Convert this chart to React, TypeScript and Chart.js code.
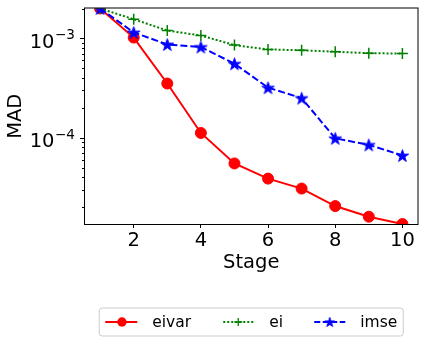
import React, { useEffect, useRef } from "react";
import { Chart, registerables } from "chart.js";

Chart.register(...registerables);

// ---- data ----
const stages = [1, 2, 3, 4, 5, 6, 7, 8, 9, 10];
const eivar = [2.0e-3, 1.02e-3, 3.52e-4, 1.12e-4, 5.53e-5, 3.89e-5, 3.09e-5, 2.06e-5, 1.61e-5, 1.36e-5];
const ei = [2.0e-3, 1.56e-3, 1.2e-3, 1.07e-3, 8.57e-4, 7.76e-4, 7.6e-4, 7.35e-4, 7.1e-4, 7.05e-4];
const imse = [2.0e-3, 1.15e-3, 8.7e-4, 8.2e-4, 5.57e-4, 3.2e-4, 2.51e-4, 9.9e-5, 8.5e-5, 6.65e-5];
const seriesNames = ["eivar", "ei", "imse"];
const xTicks = [2, 4, 6, 8, 10];
const yMajorTicks = [1e-4, 1e-3];
const xMin = 0.55;
const xMax = 10.45;
const yMin = 1.36e-5;
const yMax = 2.0e-3;
const xTitle = "Stage";
const yTitle = "MAD";

const FONT = "'DejaVu Sans', sans-serif";
const RED = "#ff0000";
const GREEN = "#008000";
const BLUE = "#0000ff";

function starPath(ctx: CanvasRenderingContext2D, cx: number, cy: number, R: number) {
  const r = R * 0.381966;
  ctx.beginPath();
  for (let i = 0; i < 10; i++) {
    const ang = -Math.PI / 2 + (i * Math.PI) / 5;
    const rad = i % 2 === 0 ? R : r;
    const x = cx + rad * Math.cos(ang);
    const y = cy + rad * Math.sin(ang);
    if (i === 0) ctx.moveTo(x, y);
    else ctx.lineTo(x, y);
  }
  ctx.closePath();
}

function makeStar(R: number, color: string) {
  const c = document.createElement("canvas");
  const s = Math.ceil(R * 2 + 4);
  c.width = s;
  c.height = s;
  const g = c.getContext("2d")!;
  starPath(g, s / 2, s / 2 + R * 0.1, R);
  g.fillStyle = color;
  g.fill();
  g.strokeStyle = color;
  g.lineWidth = 1;
  g.stroke();
  return c;
}

const axesPlugin = {
  id: "mplAxes",
  afterDatasetsDraw(chart: any) {
    const { ctx, chartArea: ca } = chart;
    const ys = chart.scales.y;
    ctx.save();
    ctx.strokeStyle = "#000";
    ctx.lineWidth = 1;
    ctx.strokeRect(ca.left - 0.5, ca.top - 0.5, ca.right - ca.left + 1, ca.bottom - ca.top + 1);
    // y tick marks (major + minor)
    const lo = Math.floor(Math.log10(yMin));
    const hi = Math.ceil(Math.log10(yMax));
    for (let e = lo; e <= hi; e++) {
      for (let m = 1; m <= 9; m++) {
        const v = m * Math.pow(10, e);
        if (v < yMin * 0.999 || v > yMax * 1.001) continue;
        const py = Math.round(ys.getPixelForValue(v)) + 0.5;
        const len = m === 1 ? 4.5 : 2.5;
        ctx.beginPath();
        ctx.moveTo(ca.left - 0.5 - len, py);
        ctx.lineTo(ca.left - 0.5, py);
        ctx.stroke();
      }
    }
    // y tick labels 10^e
    ctx.fillStyle = "#000";
    ctx.textBaseline = "alphabetic";
    ctx.textAlign = "right";
    for (const v of yMajorTicks) {
      const e = Math.round(Math.log10(v));
      const py = ys.getPixelForValue(v);
      const expStr = (e < 0 ? "\u2212" : "") + Math.abs(e);
      const right = ca.left - 10;
      ctx.font = `13.6px ${FONT}`;
      const ew = ctx.measureText(expStr).width;
      ctx.fillText(expStr, right, py + 1);
      ctx.font = `19.5px ${FONT}`;
      ctx.fillText("10", right - ew - 0.5, py + 9.4);
    }
    ctx.restore();
  },
  afterDraw(chart: any) {
    const { ctx, chartArea: ca } = chart;
    const stars = chart.$legendStar as HTMLCanvasElement;
    ctx.save();
    const cx = (ca.left + ca.right) / 2;
    const bx = cx - 152;
    const by = 308;
    const bw = 304;
    const bh = 28;
    const r = 3;
    ctx.beginPath();
    ctx.moveTo(bx + r, by);
    ctx.arcTo(bx + bw, by, bx + bw, by + bh, r);
    ctx.arcTo(bx + bw, by + bh, bx, by + bh, r);
    ctx.arcTo(bx, by + bh, bx, by, r);
    ctx.arcTo(bx, by, bx + bw, by, r);
    ctx.closePath();
    ctx.fillStyle = "rgba(255,255,255,0.8)";
    ctx.fill();
    ctx.strokeStyle = "#cccccc";
    ctx.lineWidth = 1;
    ctx.stroke();

    const rowY = by + 14;
    const items = [
      { x0: 6, x1: 38, mx: 22.7, tx: 53, color: RED, dash: [] as number[], marker: "circle" },
      { x0: 124, x1: 154, mx: 139, tx: 170, color: GREEN, dash: [2, 2], marker: "plus" },
      { x0: 215, x1: 246, mx: 230.5, tx: 261, color: BLUE, dash: [6, 2.5], marker: "star" },
    ];
    items.forEach((it, i) => {
      ctx.setLineDash(it.dash);
      ctx.strokeStyle = it.color;
      ctx.lineWidth = 2;
      ctx.beginPath();
      ctx.moveTo(bx + it.x0, rowY);
      ctx.lineTo(bx + it.x1, rowY);
      ctx.stroke();
      ctx.setLineDash([]);
      const mx = bx + it.mx;
      if (it.marker === "circle") {
        ctx.beginPath();
        ctx.arc(mx, rowY, 4.7, 0, Math.PI * 2);
        ctx.fillStyle = it.color;
        ctx.fill();
      } else if (it.marker === "plus") {
        ctx.lineWidth = 1.3;
        ctx.beginPath();
        ctx.moveTo(mx - 4, rowY);
        ctx.lineTo(mx + 4, rowY);
        ctx.moveTo(mx, rowY - 4);
        ctx.lineTo(mx, rowY + 4);
        ctx.stroke();
      } else if (stars) {
        ctx.drawImage(stars, mx - stars.width / 2, rowY - stars.height / 2);
      }
      ctx.fillStyle = "#000";
      ctx.font = `15.5px ${FONT}`;
      ctx.textAlign = "left";
      ctx.textBaseline = "alphabetic";
      ctx.fillText(seriesNames[i], bx + it.tx, rowY + 5);
    });
    ctx.restore();
  },
};

export default function App() {
  const ref = useRef<HTMLCanvasElement | null>(null);
  useEffect(() => {
    const canvas = ref.current;
    if (!canvas) return;
    const star = makeStar(6.5, BLUE);
    const legendStar = makeStar(5, BLUE);
    const mk = (vals: number[]) => stages.map((s, i) => ({ x: s, y: vals[i] }));
    const chart = new Chart(canvas, {
      type: "line",
      data: {
        datasets: [
          {
            label: seriesNames[0],
            data: mk(eivar),
            borderColor: RED,
            backgroundColor: RED,
            borderWidth: 2,
            pointStyle: "circle",
            pointRadius: 5.5,
            pointBorderWidth: 1,
            pointBorderColor: RED,
            pointBackgroundColor: RED,
            clip: 0,
            order: 2,
          },
          {
            label: seriesNames[1],
            data: mk(ei),
            borderColor: GREEN,
            backgroundColor: GREEN,
            borderWidth: 2,
            borderDash: [2, 2],
            pointStyle: "cross",
            pointRadius: 5.5,
            pointBorderWidth: 1.5,
            pointBorderColor: GREEN,
            clip: 0,
            order: 1,
          },
          {
            label: seriesNames[2],
            data: mk(imse),
            borderColor: BLUE,
            backgroundColor: BLUE,
            borderWidth: 2,
            borderDash: [7, 3],
            pointStyle: star as any,
            pointRadius: 6.5,
            clip: 0,
            order: 0,
          },
        ],
      },
      options: {
        animation: false,
        responsive: false,
        devicePixelRatio: 1,
        events: [],
        layout: { padding: { top: 7, right: 7, left: 0, bottom: 0 } },
        plugins: { legend: { display: false }, tooltip: { enabled: false } },
        scales: {
          x: {
            type: "linear",
            min: xMin,
            max: xMax,
            afterBuildTicks: (s: any) => {
              s.ticks = xTicks.map((v) => ({ value: v }));
            },
            afterFit: (s: any) => {
              s.height = 119;
              s.paddingLeft = 0;
              s.paddingRight = 0;
            },
            grid: {
              display: true,
              drawOnChartArea: false,
              drawTicks: true,
              tickLength: 4,
              tickColor: "#000",
              tickWidth: 1,
              color: "#000",
            },
            border: { display: false },
            ticks: {
              color: "#000",
              font: { family: FONT, size: 19.5 },
              padding: 1,
              maxRotation: 0,
              autoSkip: false,
              callback: (v: any) => String(v),
            },
            title: {
              display: true,
              text: xTitle,
              color: "#000",
              font: { family: FONT, size: 19.5 },
              padding: { top: 0, bottom: 68.3 },
            },
          },
          y: {
            type: "logarithmic",
            min: yMin,
            max: yMax,
            afterFit: (s: any) => {
              s.width = 85;
              s.paddingTop = 0;
              s.paddingBottom = 0;
            },
            grid: { display: false },
            border: { display: false },
            ticks: { display: false },
            title: {
              display: true,
              text: yTitle,
              color: "#000",
              font: { family: FONT, size: 19.5 },
              padding: { top: 4.3, bottom: 0 },
            },
          },
        },
      },
      plugins: [axesPlugin as any],
    });
    (chart as any).$legendStar = legendStar;
    chart.draw();
    return () => chart.destroy();
  }, []);
  return (
    <div style={{ position: "fixed", left: 0, top: 0, width: 426, height: 343, background: "#fff" }}>
      <canvas ref={ref} width={426} height={343} style={{ display: "block" }} />
    </div>
  );
}
